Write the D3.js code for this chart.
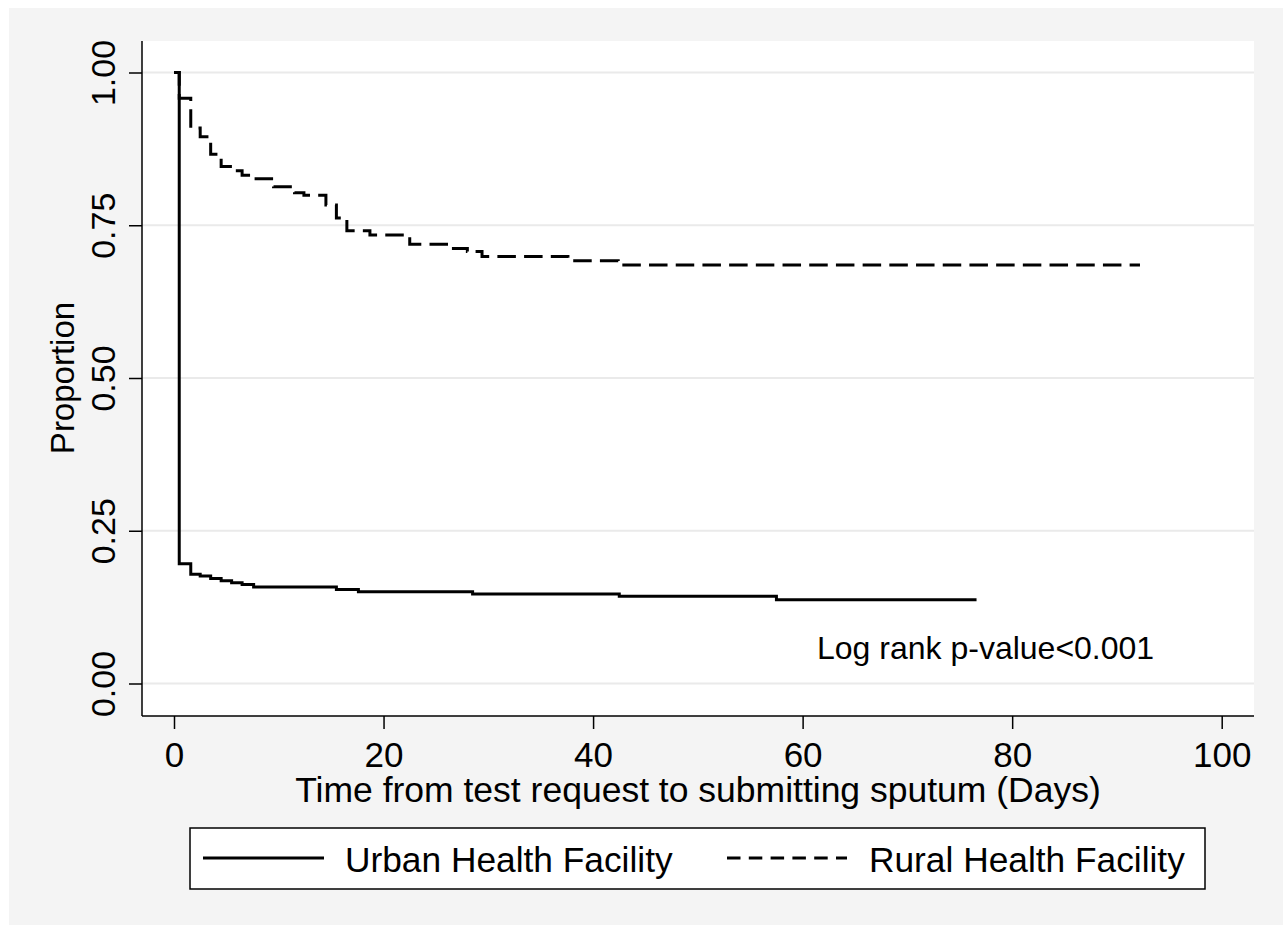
<!DOCTYPE html>
<html>
<head>
<meta charset="utf-8">
<script src="https://cdn.jsdelivr.net/npm/d3@7"></script>
<style>
  html, body { margin: 0; padding: 0; background: #ffffff; }
  svg { display: block; }
  text { font-family: "Liberation Sans", Arial, Helvetica, sans-serif; fill: #000; }
</style>
</head>
<body>
<svg id="chart" width="1287" height="926"></svg>
<script>
// ---- data ----
const xTicks = [0, 20, 40, 60, 80, 100];
const yTicks = [0, 0.25, 0.5, 0.75, 1.0];
const yTickLabels = ["0.00", "0.25", "0.50", "0.75", "1.00"];

const urbanTime = [0, 0.5, 1.6, 2.5, 3.5, 4.5, 5.5, 6.5, 7.6, 15.5, 17.6, 28.5, 42.5, 57.5, 76.6];
const urbanSurv = [1.0, 0.196, 0.179, 0.176, 0.172, 0.168, 0.165, 0.162, 0.158, 0.154, 0.150, 0.1465, 0.143, 0.137, 0.137];

const ruralTime = [0, 0.5, 1.6, 2.5, 3.5, 4.5, 5.6, 6.5, 7.6, 9.5, 11.5, 12.4, 14.5, 15.5, 16.5, 18.7, 22.5, 26.3, 28.0, 29.4, 37.6, 42.4, 92.2];
const ruralSurv = [1.0, 0.958, 0.909, 0.895, 0.866, 0.846, 0.839, 0.832, 0.826, 0.813, 0.803, 0.799, 0.783, 0.762, 0.741, 0.734, 0.719, 0.712, 0.707, 0.699, 0.692, 0.685, 0.685];

const seriesNames = ["Urban Health Facility", "Rural Health Facility"];
const xTitle = "Time from test request to submitting sputum (Days)";
const yTitle = "Proportion";
const note = "Log rank p-value<0.001";

// ---- layout ----
const svg = d3.select("#chart");
const plot = { left: 142, right: 1254, top: 41, bottom: 716 };
const x = d3.scaleLinear().domain([0, 100]).range([174, 1221.7]);
const y = d3.scaleLinear().domain([0, 1]).range([683.5, 72.5]);

// outer graph region
svg.append("rect").attr("x", 9).attr("y", 8).attr("width", 1274).attr("height", 917).attr("fill", "#f4f4f4");
// plot region
svg.append("rect").attr("x", plot.left).attr("y", plot.top)
  .attr("width", plot.right - plot.left).attr("height", plot.bottom - plot.top).attr("fill", "#ffffff");

// gridlines
svg.append("g").selectAll("line").data(yTicks).join("line")
  .attr("x1", plot.left).attr("x2", plot.right)
  .attr("y1", d => y(d)).attr("y2", d => y(d))
  .attr("stroke", "#eaeaea").attr("stroke-width", 2);

// y axis
const yAxis = d3.axisLeft(y).tickValues(yTicks).tickSize(13).tickFormat((d, i) => yTickLabels[i]);
const gy = svg.append("g").attr("transform", `translate(${plot.left},0)`).call(yAxis);
gy.select(".domain").remove();
gy.selectAll(".tick line").attr("stroke", "#000").attr("stroke-width", 1.5);
gy.selectAll(".tick text")
  .attr("x", null).attr("dy", null)
  .attr("transform", "translate(-27,0) rotate(-90)")
  .attr("text-anchor", "middle")
  .style("font-size", "34px")
  .style("font-family", "'Liberation Sans', Arial, sans-serif");
svg.append("line").attr("x1", plot.left).attr("x2", plot.left).attr("y1", plot.top).attr("y2", plot.bottom)
  .attr("stroke", "#000").attr("stroke-width", 1.5);

// x axis
const xAxis = d3.axisBottom(x).tickValues(xTicks).tickSize(13).tickFormat(d3.format("d"));
const gx = svg.append("g").attr("transform", `translate(0,${plot.bottom})`).call(xAxis);
gx.select(".domain").remove();
gx.selectAll(".tick line").attr("stroke", "#000").attr("stroke-width", 1.5);
gx.selectAll(".tick text")
  .attr("y", 51).attr("dy", null)
  .style("font-size", "35px")
  .style("font-family", "'Liberation Sans', Arial, sans-serif");
svg.append("line").attr("x1", plot.left).attr("x2", plot.right).attr("y1", plot.bottom).attr("y2", plot.bottom)
  .attr("stroke", "#000").attr("stroke-width", 1.5);

// axis titles
svg.append("text").attr("x", (plot.left + plot.right) / 2).attr("y", 802)
  .attr("text-anchor", "middle").style("font-size", "35.5px").text(xTitle);
svg.append("text").attr("transform", "translate(74,378) rotate(-90)")
  .attr("text-anchor", "middle").style("font-size", "33px").text(yTitle);

// curves
const line = d3.line().curve(d3.curveStepAfter).x(d => x(d[0])).y(d => y(d[1]));
const urban = urbanTime.map((t, i) => [t, urbanSurv[i]]);
const rural = ruralTime.map((t, i) => [t, ruralSurv[i]]);

svg.append("path").datum(rural).attr("d", line)
  .attr("fill", "none").attr("stroke", "#000").attr("stroke-width", 3)
  .attr("stroke-dasharray", "18.5,8.2");
svg.append("path").datum(urban).attr("d", line)
  .attr("fill", "none").attr("stroke", "#000").attr("stroke-width", 3);

// annotation
svg.append("text").attr("x", 817).attr("y", 659).style("font-size", "32px").text(note);

// legend
svg.append("rect").attr("x", 190).attr("y", 828).attr("width", 1015).attr("height", 61)
  .attr("fill", "#fff").attr("stroke", "#000").attr("stroke-width", 1.5);
svg.append("line").attr("x1", 203).attr("x2", 324).attr("y1", 858).attr("y2", 858)
  .attr("stroke", "#000").attr("stroke-width", 3);
svg.append("text").attr("x", 345).attr("y", 872).style("font-size", "35.3px").text(seriesNames[0]);
svg.append("line").attr("x1", 727).attr("x2", 847).attr("y1", 858).attr("y2", 858)
  .attr("stroke", "#000").attr("stroke-width", 3).attr("stroke-dasharray", "13.5,8.3");
svg.append("text").attr("x", 869).attr("y", 872).style("font-size", "35.3px").text(seriesNames[1]);
</script>
</body>
</html>
